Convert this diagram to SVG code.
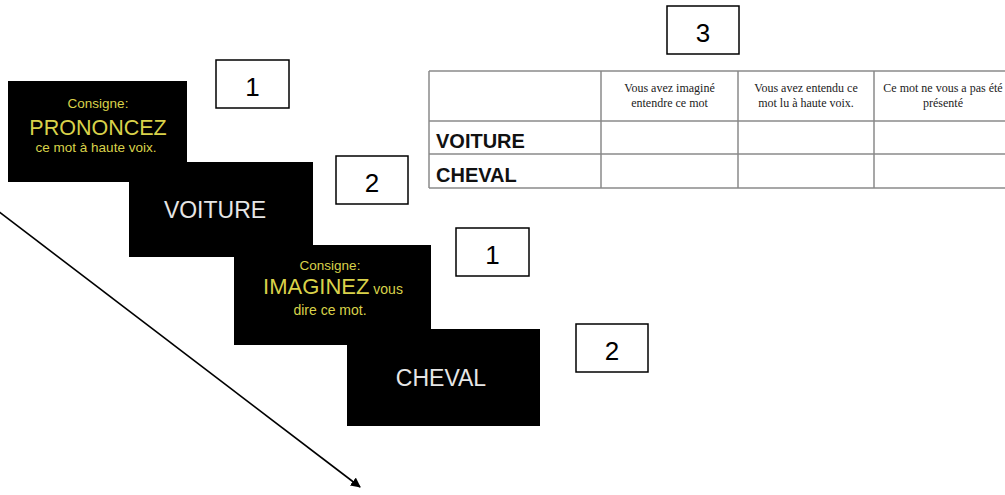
<svg xmlns="http://www.w3.org/2000/svg" width="1005" height="495" viewBox="0 0 1005 495">
<defs>
<style>
.screen{fill:#000}
.y{fill:#d9d24a;font-family:"Liberation Sans",Arial,sans-serif;text-anchor:middle}
.w{fill:#e6e6e6;font-family:"Liberation Sans",Arial,sans-serif;text-anchor:middle;font-size:23px}
.box{fill:#fff;stroke:#000;stroke-width:1.5}
.num{font-family:"Liberation Sans",Arial,sans-serif;font-size:26px;text-anchor:middle;fill:#000}
.grid{stroke:#8a8a8a;stroke-width:1.5;fill:none}
.hd{font-family:"Liberation Serif","Times New Roman",serif;font-size:12px;text-anchor:middle;fill:#222}
.rl{font-family:"Liberation Sans",Arial,sans-serif;font-size:20px;font-weight:bold;fill:#111}
</style>
<marker id="ah" viewBox="0 0 10 10" refX="9" refY="5" markerWidth="10" markerHeight="10" markerUnits="userSpaceOnUse" orient="auto">
<path d="M0,0 L10,5 L0,10 z" fill="#000"/>
</marker>
</defs>
<rect width="1005" height="495" fill="#fff"/>

<g id="connectors">
<line x1="-2" y1="211" x2="360" y2="487" stroke="#000" stroke-width="1.6" marker-end="url(#ah)"/>
</g>

<g id="screen1">
<rect class="screen" x="8" y="81" width="179" height="101"/>
<text class="y" x="98" y="108" font-size="13.5">Consigne:</text>
<text class="y" x="98" y="135" font-size="21.5">PRONONCEZ</text>
<text class="y" x="96" y="152" font-size="13.5">ce mot à haute voix.</text>
</g>

<g id="screen2">
<rect class="screen" x="129" y="162" width="184" height="95"/>
<text class="w" x="215" y="218">VOITURE</text>
</g>

<g id="screen3">
<rect class="screen" x="234" y="245" width="197" height="100"/>
<text class="y" x="330" y="270" font-size="13.5">Consigne:</text>
<text class="y" x="333" y="294" font-size="22"><tspan>IMAGINEZ</tspan><tspan font-size="14"> vous</tspan></text>
<text class="y" x="330" y="315" font-size="14">dire ce mot.</text>
</g>

<g id="screen4">
<rect class="screen" x="347" y="329" width="193" height="97"/>
<text class="w" x="441" y="386">CHEVAL</text>
</g>

<g id="label1a">
<rect class="box" x="216" y="60" width="73" height="48"/>
<text class="num" x="252.5" y="96">1</text>
</g>
<g id="label2a">
<rect class="box" x="336" y="156" width="72" height="48"/>
<text class="num" x="372" y="192">2</text>
</g>
<g id="label1b">
<rect class="box" x="456" y="228" width="73" height="48"/>
<text class="num" x="492.5" y="264">1</text>
</g>
<g id="label2b">
<rect class="box" x="576" y="324" width="72" height="48"/>
<text class="num" x="612" y="360">2</text>
</g>
<g id="label3">
<rect class="box" x="667" y="6" width="72" height="48"/>
<text class="num" x="703" y="42">3</text>
</g>

<g id="table">
<path class="grid" d="M429,71 H1006 M429,121 H1006 M429,154 H1006 M429,188 H1006 M429,71 V188 M601,71 V188 M738,71 V188 M874,71 V188"/>
<text class="hd" x="669.5" y="92">Vous avez imaginé</text>
<text class="hd" x="669.5" y="107">entendre ce mot</text>
<text class="hd" x="806" y="92">Vous avez entendu ce</text>
<text class="hd" x="806" y="107">mot lu à haute voix.</text>
<text class="hd" x="943" y="92">Ce mot ne vous a pas été</text>
<text class="hd" x="943" y="107">présenté</text>
<text class="rl" x="436" y="148">VOITURE</text>
<text class="rl" x="436" y="182">CHEVAL</text>
</g>
</svg>
